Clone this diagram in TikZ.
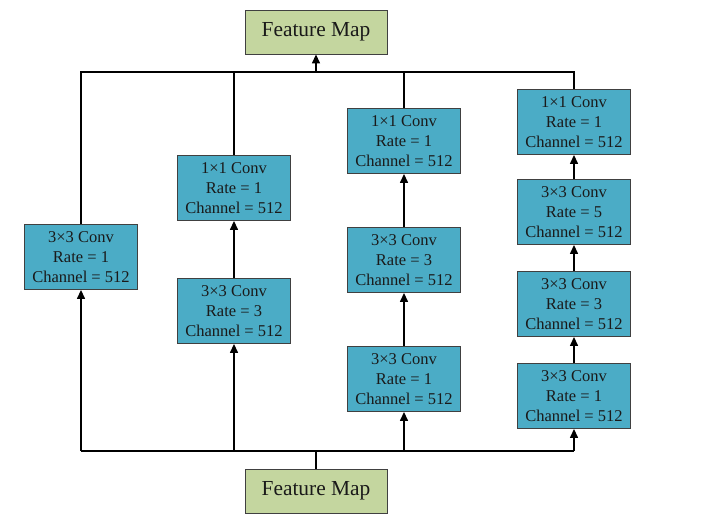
\documentclass[tikz,border=0pt]{standalone}
\usepackage{fontspec}
\setmainfont{Liberation Serif}
\usetikzlibrary{arrows.meta}
\definecolor{convfill}{HTML}{4BACC6}
\definecolor{fmfill}{HTML}{C4D69F}
\definecolor{edge}{HTML}{404040}
\definecolor{txt}{HTML}{1A1A1A}
\tikzset{
  conv/.style={draw=edge, line width=0.9pt, fill=convfill, text=txt, minimum width=113pt, minimum height=65pt, inner sep=0pt, align=center, font=\fontsize{16.5}{20}\selectfont},
  fmap/.style={draw=edge, line width=0.9pt, fill=fmfill, text=txt, minimum width=142pt, minimum height=44pt, inner sep=0pt, font=\fontsize{21.4}{24}\selectfont},
  wire/.style={line width=1.4pt, black},
  arr/.style={wire, -{Triangle[length=9pt,width=8pt]}}
}
\begin{document}
\begin{tikzpicture}[x=1pt,y=-1pt]
\useasboundingbox (0,0) rectangle (716,532);
\node[fmap] (ftop) at (316,32) {Feature Map};
\node[fmap] (fbot) at (316,491) {Feature Map};
\coordinate (busT) at (316,72);
\coordinate (busB) at (316,451);
% column 1
\node[conv] (a1) at (81,257) {3×3 Conv\\Rate = 1\\Channel = 512};
% column 2
\node[conv] (b1) at (234,188) {1×1 Conv\\Rate = 1\\Channel = 512};
\node[conv] (b2) at (234,311) {3×3 Conv\\Rate = 3\\Channel = 512};
% column 3
\node[conv] (c1) at (404,141) {1×1 Conv\\Rate = 1\\Channel = 512};
\node[conv] (c2) at (404,260) {3×3 Conv\\Rate = 3\\Channel = 512};
\node[conv] (c3) at (404,379) {3×3 Conv\\Rate = 1\\Channel = 512};
% column 4
\node[conv] (d1) at (574,122) {1×1 Conv\\Rate = 1\\Channel = 512};
\node[conv] (d2) at (574,212) {3×3 Conv\\Rate = 5\\Channel = 512};
\node[conv] (d3) at (574,304) {3×3 Conv\\Rate = 3\\Channel = 512};
\node[conv] (d4) at (574,396) {3×3 Conv\\Rate = 1\\Channel = 512};
% bottom bus
\draw[wire] (fbot.north) -- (busB);
\draw[wire] (a1.south |- busB) -- (d4.south |- busB);
\draw[arr] (a1.south |- busB) -- (a1.south);
\draw[arr] (b2.south |- busB) -- (b2.south);
\draw[arr] (c3.south |- busB) -- (c3.south);
\draw[arr] (d4.south |- busB) -- (d4.south);
% inner arrows
\draw[arr] (b2.north) -- (b1.south);
\draw[arr] (c3.north) -- (c2.south);
\draw[arr] (c2.north) -- (c1.south);
\draw[arr] (d4.north) -- (d3.south);
\draw[arr] (d3.north) -- (d2.south);
\draw[arr] (d2.north) -- (d1.south);
% top bus
\draw[wire] (a1.north) -- (a1.north |- busT) -- (d1.north |- busT) -- (d1.north);
\draw[wire] (b1.north) -- (b1.north |- busT);
\draw[wire] (c1.north) -- (c1.north |- busT);
\draw[arr] (busT) -- (ftop.south);
\end{tikzpicture}
\end{document}
